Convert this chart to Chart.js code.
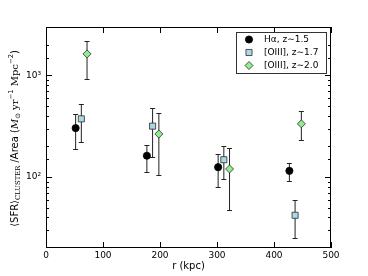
<!DOCTYPE html>
<html>
<head>
<meta charset="utf-8">
<script src="https://cdn.jsdelivr.net/npm/chart.js@4/dist/chart.umd.min.js"></script>
<style>
  html, body { margin: 0; padding: 0; background: #fff; }
</style>
</head>
<body>
<canvas id="sfrChart" width="368" height="276"></canvas>
<script>
// === DATA ===
const seriesLabels = ["H\u03b1, z\u223c1.5", "[OIII], z\u223c1.7", "[OIII], z\u223c2.0"];

// H-alpha, z~1.5
const haR = [52, 177, 302, 427];
const haSfr = [303, 162, 125, 115];
const haLo = [188, 113, 80, 92];
const haHi = [416, 209, 167, 137];

// [OIII], z~1.7
const o17R = [62, 187, 312, 437];
const o17Sfr = [374, 317, 148, 42];
const o17Lo = [222, 157, 96, 25];
const o17Hi = [522, 473, 200, 59];

// [OIII], z~2.0
const o20R = [72, 198, 322, 448];
const o20Sfr = [1630, 265, 120, 334];
const o20Lo = [930, 105, 47, 231];
const o20Hi = [2200, 426, 193, 442];

const xTicks = [0, 100, 200, 300, 400, 500];
const yMin = 20, yMax = 3000;

function pts(r, v, lo, hi) {
  return r.map((x, i) => ({ x: x, y: v[i], lo: lo[i], hi: hi[i] }));
}

const datasets = [
  { label: seriesLabels[0], data: pts(haR, haSfr, haLo, haHi),
    pointStyle: "circle", pointRadius: 3.6, backgroundColor: "#000000", borderColor: "#000000", borderWidth: 0.8 },
  { label: seriesLabels[1], data: pts(o17R, o17Sfr, o17Lo, o17Hi),
    pointStyle: "rect", pointRadius: 4.3, backgroundColor: "#add8e6", borderColor: "#2a2a2a", borderWidth: 0.8 },
  { label: seriesLabels[2], data: pts(o20R, o20Sfr, o20Lo, o20Hi),
    pointStyle: "rectRot", pointRadius: 4.0, backgroundColor: "#90ee90", borderColor: "#2a2a2a", borderWidth: 0.8 }
];

// error bars under the markers
const errorBars = {
  id: "errorBars",
  beforeDatasetsDraw(chart) {
    const { ctx, scales: { x, y } } = chart;
    ctx.save();
    ctx.strokeStyle = "#222";
    ctx.lineWidth = 1;
    chart.data.datasets.forEach(ds => {
      ds.data.forEach(p => {
        const px = x.getPixelForValue(p.x);
        const yl = Math.round(y.getPixelForValue(p.lo)) + 0.5;
        const yh = Math.round(y.getPixelForValue(p.hi)) + 0.5;
        ctx.beginPath();
        ctx.moveTo(px, yl); ctx.lineTo(px, yh);
        ctx.moveTo(px - 2.5, yl); ctx.lineTo(px + 2.5, yl);
        ctx.moveTo(px - 2.5, yh); ctx.lineTo(px + 2.5, yh);
        ctx.stroke();
      });
    });
    ctx.restore();
  }
};

// frame, inward ticks, legend box, y title
const decorations = {
  id: "decorations",
  afterDatasetsDraw(chart) {
    const { ctx, chartArea: a, scales: { x, y } } = chart;
    ctx.save();
    ctx.strokeStyle = "#000";
    ctx.lineWidth = 1;
    ctx.strokeRect(a.left + 0.5, a.top + 0.5, a.right - a.left - 1, a.bottom - a.top - 1);

    ctx.beginPath();
    y.ticks.forEach(t => {
      const py = Math.round(y.getPixelForValue(t.value)) + 0.5;
      if (py < a.top || py > a.bottom) return;
      const lg = Math.log10(t.value);
      const len = Math.abs(lg - Math.round(lg)) < 1e-6 ? 6 : 3;
      ctx.moveTo(a.left, py); ctx.lineTo(a.left + len, py);
      ctx.moveTo(a.right, py); ctx.lineTo(a.right - len, py);
    });
    x.ticks.forEach(t => {
      const px = Math.round(x.getPixelForValue(t.value)) + 0.5;
      ctx.moveTo(px, a.bottom); ctx.lineTo(px, a.bottom - 6);
      ctx.moveTo(px, a.top); ctx.lineTo(px, a.top + 6);
    });
    ctx.stroke();

    // legend
    const lx = 236, ly = 32, lw = 91, lh = 42;
    ctx.fillStyle = "#fff";
    ctx.fillRect(lx, ly, lw, lh);
    ctx.strokeStyle = "#333";
    ctx.strokeRect(lx + 0.5, ly + 0.5, lw - 1, lh - 1);
    const rows = [39.5, 52.5, 65.5];
    chart.data.datasets.forEach((ds, i) => {
      ctx.fillStyle = ds.backgroundColor;
      ctx.strokeStyle = ds.borderColor;
      ctx.lineWidth = ds.borderWidth;
      Chart.helpers.drawPoint(ctx, { pointStyle: ds.pointStyle, radius: ds.pointRadius, rotation: 0, borderWidth: ds.borderWidth }, 249, rows[i]);
      ctx.fillStyle = "#000";
      ctx.font = "9px 'DejaVu Sans'";
      ctx.textBaseline = "middle";
      ctx.textAlign = "left";
      ctx.fillText(ds.label, 264, rows[i]);
    });

    // y axis title with sub/superscripts
    const big = 10, small = 6.8;
    const segs = [
      { t: "\u27e8SFR\u27e9", f: big + "px 'DejaVu Sans'", dy: 0 },
      { t: "CLUSTER", f: small + "px 'DejaVu Serif'", dy: 2.8 },
      { t: " /Area (", f: big + "px 'DejaVu Sans'", dy: 0 },
      { t: "M", f: "italic " + big + "px 'DejaVu Serif'", dy: 0 },
      { t: "\u2299", f: small + "px 'DejaVu Sans'", dy: 2.8 },
      { t: " yr", f: big + "px 'DejaVu Serif'", dy: 0 },
      { t: "\u22121", f: small + "px 'DejaVu Sans'", dy: -4 },
      { t: " Mpc", f: big + "px 'DejaVu Serif'", dy: 0 },
      { t: "\u22122", f: small + "px 'DejaVu Sans'", dy: -4 },
      { t: ")", f: big + "px 'DejaVu Sans'", dy: 0 }
    ];
    let total = 0;
    segs.forEach(s => { ctx.font = s.f; s.w = ctx.measureText(s.t).width; total += s.w; });
    ctx.translate(15, (a.top + a.bottom) / 2 + 1);
    ctx.rotate(-Math.PI / 2);
    ctx.fillStyle = "#000";
    ctx.textBaseline = "middle";
    let cx = -total / 2;
    segs.forEach(s => { ctx.font = s.f; ctx.fillText(s.t, cx, s.dy); cx += s.w; });
    ctx.restore();
  }
};

Chart.defaults.font.family = "'DejaVu Sans', sans-serif";
Chart.defaults.color = "#000";

new Chart(document.getElementById("sfrChart"), {
  type: "scatter",
  data: { datasets: datasets },
  options: {
    responsive: false,
    animation: false,
    layout: { padding: { top: 27, right: 37, left: 0, bottom: 0 } },
    plugins: { legend: { display: false }, tooltip: { enabled: false } },
    scales: {
      x: {
        type: "linear", min: 0, max: 500,
        grid: { display: false, drawTicks: false }, border: { display: false },
        afterBuildTicks: s => { s.ticks = xTicks.map(v => ({ value: v })); },
        ticks: { font: { size: 9 }, padding: 2, maxRotation: 0 },
        title: { display: true, text: "r (kpc)", font: { size: 10 }, padding: { top: 2, bottom: 4 } },
        afterFit: s => { s.height = 28; }
      },
      y: {
        type: "logarithmic", min: yMin, max: yMax,
        grid: { display: false, drawTicks: false }, border: { display: false },
        ticks: {
          autoSkip: false, font: { size: 9 }, padding: 5,
          callback: v => v === 100 ? "10\u00b2" : v === 1000 ? "10\u00b3" : ""
        },
        afterFit: s => { s.width = 46; }
      }
    }
  },
  plugins: [errorBars, decorations]
});
</script>
</body>
</html>
